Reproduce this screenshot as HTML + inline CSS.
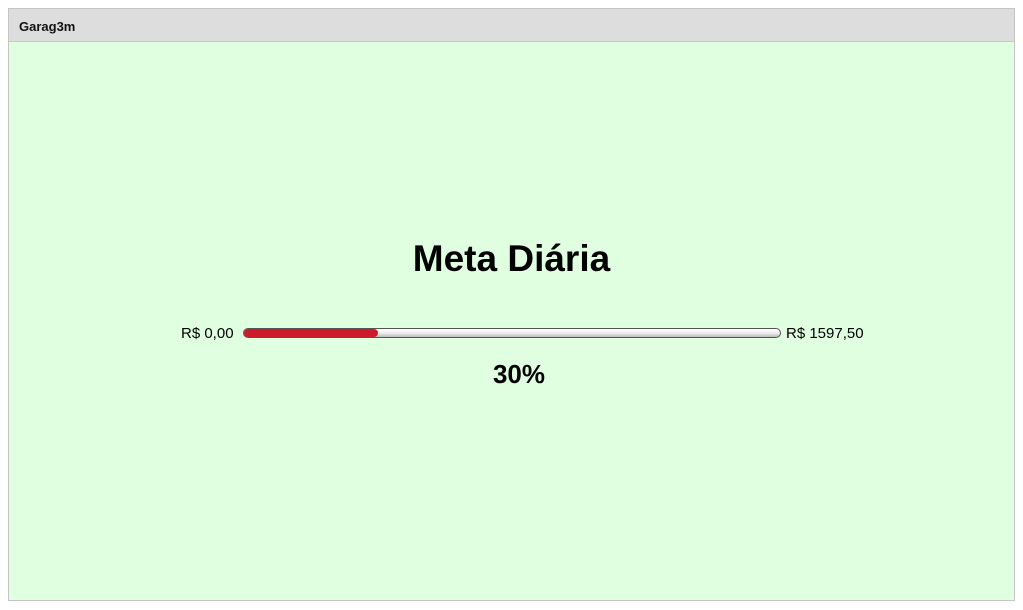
<!DOCTYPE html>
<html><head><meta charset="utf-8"><style>
html,body{margin:0;padding:0;width:1023px;height:610px;background:#fff;overflow:hidden;font-family:"Liberation Sans",Arial,sans-serif}
#panel{position:absolute;left:8px;top:8px;width:1005px;height:591px;border:1px solid #c4c4c4;background:#e0ffe0}
#hdr{position:absolute;left:0;top:0;width:1005px;height:32px;background:#dddddd;border-bottom:1px solid #c8c8c8}
#hdr span{position:absolute;left:10px;top:10px;font-size:13px;font-weight:bold;color:#111}
#title{position:absolute;left:0;width:1005px;top:229px;text-align:center;font-size:37px;font-weight:bold;color:#000}
.lbl{position:absolute;top:316px;font-size:15px;color:#000}
#track{position:absolute;left:234px;top:319px;width:536px;height:8px;border:1px solid #555;border-radius:5px;background:linear-gradient(#fff,#eee 50%,#bbb)}
#fill{position:absolute;left:0;top:0;height:8px;border-radius:5px;background:#cc1a2b}
#pct{position:absolute;left:0;width:1020px;top:350px;text-align:center;font-size:26px;font-weight:bold}
</style></head><body>
<div id="panel">
<div id="hdr"><span>Garag3m</span></div>
<div id="title">Meta Diária</div>
<div class="lbl" style="left:172px">R$ 0,00</div>
<div id="track"><div id="fill"></div></div>
<div class="lbl" style="left:777px">R$ 1597,50</div>
<div id="pct">30%</div>
</div>
<script>
const minValue = [0];
const goalValue = [1597.5];
const currentValue = [400];
const percentLabel = ["30%"];
const trackWidth = 536;
function xScale(v){return (v-minValue[0])/(goalValue[0]-minValue[0])*trackWidth;}
document.getElementById('fill').style.width = Math.max(0,Math.min(trackWidth,xScale(currentValue[0])))+'px';
document.getElementById('pct').textContent = percentLabel[0];
</script>
</body></html>
